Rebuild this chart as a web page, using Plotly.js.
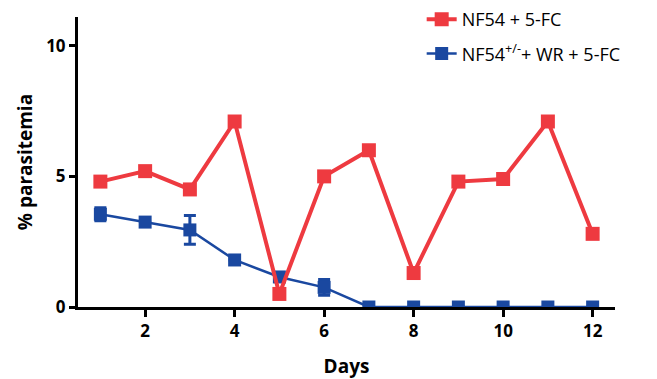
<!DOCTYPE html>
<html><head><meta charset="utf-8">
<script src="https://cdn.plot.ly/plotly-3.0.1.min.js"></script>
<style>html,body{margin:0;padding:0;background:#fff}#c{width:657px;height:379px}</style>
</head><body><div id="c"></div>
<script>
const days = [1,2,3,4,5,6,7,8,9,10,11,12];
const nf54 = [4.8,5.2,4.5,7.1,0.5,5.0,6.0,1.3,4.8,4.9,7.1,2.8];
const nf54WR = [3.55,3.25,2.95,1.8,1.15,0.75,0,0,0,0,0,0];
const nf54WRErr = [0.25,0,0.55,0,0.15,0.3,0,0,0,0,0,0];
const names = ["NF54 + 5-FC","NF54<sup>+/-</sup>+ WR + 5-FC"];
const yTicks = [0,5,10];
const xTicks = [2,4,6,8,10,12];

const red = '#EE3A40', blue = '#1A48A0';
const F = '"Open Sans", sans-serif';
const traces = [
 {x: days, y: nf54WR, name: names[1], legendgroup:'b', legendrank:2, mode:'lines+markers', type:'scatter',
  line:{color:blue,width:2.5}, marker:{symbol:'square',size:13,color:blue},
  error_y:{type:'data',array:nf54WRErr,visible:true,color:blue,thickness:3,width:6}},
 {x: days, y: nf54, name: names[0], legendgroup:'a', legendrank:1, mode:'lines+markers', type:'scatter',
  line:{color:red,width:4}, marker:{symbol:'square',size:14,color:red}}
];
const layout = {
 width:657,height:379,margin:{l:78,r:42,t:1,b:72},
 paper_bgcolor:'#fff',plot_bgcolor:'#fff',
 font:{family:F,color:'#000'},
 showlegend:true,
 legend:{x:0.64,y:1.0,xanchor:'left',yanchor:'top',traceorder:'grouped',tracegroupgap:8,
   font:{size:18,family:F},bgcolor:'rgba(0,0,0,0)'},
 xaxis:{range:[0.5,12.5],tickvals:xTicks,ticktext:xTicks.map(String),showgrid:false,zeroline:false,
   showline:true,linecolor:'#000',linewidth:3,ticks:'outside',ticklen:7,tickwidth:3,tickcolor:'#000',
   tickfont:{size:17,family:F,weight:'bold'},
   title:{text:'<b>Days</b>',font:{size:19,family:F},standoff:19}},
 yaxis:{range:[0,11.1],domain:[0,0.9477],tickvals:yTicks,ticktext:yTicks.map(String),showgrid:false,zeroline:false,
   showline:true,linecolor:'#000',linewidth:3,ticks:'outside',ticklen:6,tickwidth:3,tickcolor:'#000',
   tickfont:{size:17,family:F,weight:'bold'},
   title:{text:'<b>% parasitemia</b>',font:{size:19,family:F},standoff:9}}
};
Plotly.newPlot('c',traces,layout,{displayModeBar:false,staticPlot:true});
</script></body></html>
